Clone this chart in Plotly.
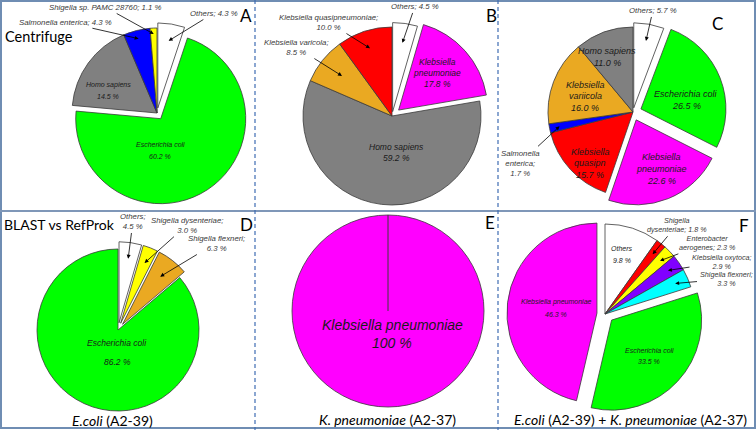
import math
import plotly.graph_objects as go

W, H = 756, 430

# ---------------- data ----------------
A_labels = ["Others", "Escherichia coli", "Homo sapiens", "Salmonella enterica", "Shigella sp. PAMC 28760"]
A_values = [4.3, 60.2, 14.5, 4.3, 1.1]

B_labels = ["Others", "Klebsiella pneumoniae", "Homo sapiens", "Klebsiella varicola", "Klebsiella quasipneumoniae"]
B_values = [4.5, 17.8, 59.2, 8.5, 10.0]

C_labels = ["Others", "Escherichia coli", "Klebsiella pneumoniae", "Klebsiella quasipn", "Salmonella enterica",
            "Klebsiella variicola", "Homo sapiens"]
C_values = [5.7, 26.5, 22.6, 15.7, 1.7, 16.0, 11.0]

D_labels = ["Others", "Shigella dysenteriae", "Shigella flexneri", "Escherichia coli"]
D_values = [4.5, 3.0, 6.3, 86.2]

E_labels = ["Klebsiella pneumoniae"]
E_values = [100]

F_labels = ["Others", "Shigella dysenteriae", "Enterobacter aerogenes", "Klebsiella oxytoca", "Shigella flexneri",
            "Escherichia coli", "Klebsiella pneumoniae"]
F_values = [9.8, 1.8, 2.3, 2.9, 3.3, 33.5, 46.3]

panel_letters = ["A", "B", "C", "D", "E", "F"]
row_titles = ["Centrifuge", "BLAST vs RefProk"]
captions = ["<i>E.coli</i> (A2-39)", "<i>K. pneumoniae</i> (A2-37)",
            "<i>E.coli</i> (A2-39) + <i>K. pneumoniae</i> (A2-37)"]

# ---------------- styles ----------------
COLORS = {
    "Others": "#FFFFFF",
    "Escherichia coli": "#00FF00",
    "Homo sapiens": "#808080",
    "Salmonella enterica": "#0000FF",
    "Shigella sp. PAMC 28760": "#FFFF00",
    "Klebsiella pneumoniae": "#FF00FF",
    "Klebsiella varicola": "#EAA922",
    "Klebsiella variicola": "#EAA922",
    "Klebsiella quasipneumoniae": "#FF0000",
    "Klebsiella quasipn": "#FF0000",
    "Shigella dysenteriae": "#FFFF00",
    "Shigella flexneri": "#EAA922",
    "Enterobacter aerogenes": "#FFFF00",
    "Klebsiella oxytoca": "#8000FF",
}
F_COLORS = {"Shigella dysenteriae": "#FF0000", "Shigella flexneri": "#00FFFF"}

LABEL_FONT = "Liberation Sans, Arial, sans-serif"
TITLE_FONT = "Lato, Open Sans, sans-serif"

# geometry per pie: centre (px), radius (px), pulls, label font size
# inside: (slice name, x, [y of each line], split name over two lines)
pies = [
    dict(labels=A_labels, values=A_values, cx=157, cy=113, r=85,
         pull={"Others": 0.06, "Escherichia coli": 0.08}, fs=7,
         inside=[("Escherichia coli", 160, [144, 156], False), ("Homo sapiens", 108, [85, 96], False)],
         callouts=[("Others", 214, 13, "{n}; {v} %", 0.8),
                   ("Salmonella enterica", 65, 22, "{n}; {v} %", 0.9),
                   ("Shigella sp. PAMC 28760", 105, 7, "{n}; {v} %", 0.93)]),
    dict(labels=B_labels, values=B_values, cx=392, cy=116, r=89,
         pull={"Others": 0.05, "Klebsiella pneumoniae": 0.1}, fs=8.5,
         inside=[("Klebsiella pneumoniae", 437, [62, 73, 84], True), ("Homo sapiens", 396, [147, 158], False)],
         callouts=[("Others", 415, 6, "{n}; {v} %", 0.78),
                   ("Klebsiella varicola", 296, 47, "{n};<br>{v} %", 0.72),
                   ("Klebsiella quasipneumoniae", 328, 22, "{n};<br>{v} %", 0.8)]),
    dict(labels=C_labels, values=C_values, cx=633, cy=112, r=85,
         pull={"Others": 0.05, "Escherichia coli": 0.1, "Klebsiella pneumoniae": 0.1}, fs=9,
         inside=[("Escherichia coli", 686, [94, 106], False),
                 ("Klebsiella pneumoniae", 661, [157, 169, 181], True),
                 ("Klebsiella quasipn", 590, [152, 163, 175], True),
                 ("Klebsiella variicola", 585, [85, 96, 108], True),
                 ("Homo sapiens", 607, [51, 63], False)],
         callouts=[("Others", 653, 10, "{n}; {v} %", 0.8),
                   ("Salmonella enterica", 520, 163, "Salmonella<br>enterica;<br>{v} %", 0.88)]),
    dict(labels=D_labels, values=D_values, cx=118, cy=330, r=81,
         pull={"Others": 0.09, "Shigella dysenteriae": 0.09, "Shigella flexneri": 0.09}, fs=8.5,
         inside=[("Escherichia coli", 117, [343, 362], False)],
         callouts=[("Others", 133, 221, "{n};<br>{v} %", 0.8),
                   ("Shigella dysenteriae", 187, 225, "{n};<br>{v} %", 0.8),
                   ("Shigella flexneri", 216, 243, "{n};<br>{v} %", 0.75)]),
    dict(labels=E_labels, values=E_values, cx=388, cy=311, r=96, pull={}, fs=14,
         inside=[("Klebsiella pneumoniae", 392, [325, 343], False)], callouts=[]),
    dict(labels=F_labels, values=F_values, cx=605, cy=314, r=90,
         pull={"Escherichia coli": 0.1, "Klebsiella pneumoniae": 0.09}, fs=7,
         inside=[("Others", 622, [248, 260], False),
                 ("Escherichia coli", 649, [350, 361], False),
                 ("Klebsiella pneumoniae", 556, [302, 314], False)],
         callouts=[("Shigella dysenteriae", 677, 225, "Shigella<br>dysenteriae; {v} %", 0.85),
                   ("Enterobacter aerogenes", 707, 243, "Enterobacter<br>aerogenes; {v} %", 0.85),
                   ("Klebsiella oxytoca", 722, 262, "{n};<br>{v} %", 0.85),
                   ("Shigella flexneri", 726, 279, "{n};<br>{v} %", 0.85)]),
]

fig = go.Figure()
annotations = []
shapes = []

for pi, p in enumerate(pies):
    labels, values = p["labels"], p["values"]
    pulls = [p["pull"].get(l, 0) for l in labels]
    maxpull = max(pulls)
    s = 2 * p["r"] * (1 + maxpull)
    dom_x = [(p["cx"] - s / 2) / W, (p["cx"] + s / 2) / W]
    dom_y = [1 - (p["cy"] + s / 2) / H, 1 - (p["cy"] - s / 2) / H]
    cmap = dict(COLORS)
    if pi == 5:
        cmap.update(F_COLORS)
    colors = [cmap[l] for l in labels]
    fig.add_trace(go.Pie(
        labels=labels, values=values, sort=False, direction="clockwise", rotation=0,
        pull=pulls, domain=dict(x=dom_x, y=dom_y),
        marker=dict(colors=colors, line=dict(color="#3a3a3a", width=0.8)),
        textinfo="none", hoverinfo="label+value", showlegend=False,
    ))
    # inside labels (one annotation per line)
    for (name, x, ys, split) in p["inside"]:
        v = values[labels.index(name)]
        lines = (name.split(" ", 1) if split else [name]) + [f"{v} %"]
        for line, y in zip(lines, ys):
            annotations.append(dict(x=x, y=y, xref="x", yref="y", text=f"<i>{line}</i>", showarrow=False,
                                    font=dict(family=LABEL_FONT, size=p["fs"], color="#1a1a1a")))
    # callouts: arrow tips computed from the slice angles
    total = sum(values)
    cum = 0
    mids = {}
    for l, v in zip(labels, values):
        mids[l] = (cum + v / 2) / total * 2 * math.pi
        cum += v
    for (name, tx, ty, tmpl, f) in p["callouts"]:
        idx = labels.index(name)
        a = mids[name]
        d = (f + pulls[idx]) * p["r"]
        x = p["cx"] + d * math.sin(a)
        y = p["cy"] - d * math.cos(a)
        annotations.append(dict(
            x=x, y=y, xref="x", yref="y", ax=tx, ay=ty, axref="x", ayref="y",
            text=f"<i>{tmpl.format(n=name, v=values[idx])}</i>",
            showarrow=True, arrowhead=2, arrowsize=1, arrowwidth=0.8, arrowcolor="#000000",
            standoff=0, startstandoff=1,
            font=dict(family=LABEL_FONT, size=7.8 if pi != 5 else 7.2, color="#3a3a3a"),
        ))
    if pi == 4:
        shapes.append(dict(type="line", xref="x", yref="y", x0=p["cx"], y0=p["cy"],
                           x1=p["cx"], y1=p["cy"] - p["r"], line=dict(color="#3a3a3a", width=1), layer="above"))

# panel letters
letter_pos = [(246, 15), (491, 15), (717, 23), (246, 224), (490, 222), (744, 225)]
for t, (x, y) in zip(panel_letters, letter_pos):
    annotations.append(dict(x=x, y=y, xref="x", yref="y", text=t, showarrow=False,
                            font=dict(family=TITLE_FONT, size=17, color="#000000")))
annotations.append(dict(x=3, y=36, xref="x", yref="y", text=row_titles[0], showarrow=False, xanchor="left",
                        font=dict(family=TITLE_FONT, size=14.5, color="#000000")))
annotations.append(dict(x=2, y=224, xref="x", yref="y", text=row_titles[1], showarrow=False, xanchor="left",
                        font=dict(family=TITLE_FONT, size=14, color="#000000")))
cap_pos = [(112, 420), (387, 419), (630, 419)]
for t, (x, y) in zip(captions, cap_pos):
    annotations.append(dict(x=x, y=y, xref="x", yref="y", text=t, showarrow=False,
                            font=dict(family=TITLE_FONT, size=14, color="#000000")))

# frame and dividers
shapes += [
    dict(type="rect", xref="x", yref="y", x0=1, y0=1, x1=W - 1, y1=H - 2,
         line=dict(color="#6F8DB3", width=2), layer="above"),
    dict(type="line", xref="x", yref="y", x0=0, y0=211, x1=W, y1=211,
         line=dict(color="#7F97B8", width=2), layer="above"),
    dict(type="line", xref="x", yref="y", x0=255, y0=0, x1=255, y1=H,
         line=dict(color="#3F6DB3", width=1.2, dash="4px,3px"), layer="above"),
    dict(type="line", xref="x", yref="y", x0=498, y0=0, x1=498, y1=H,
         line=dict(color="#3F6DB3", width=1.2, dash="4px,3px"), layer="above"),
]

fig.update_layout(
    width=W, height=H, margin=dict(l=0, r=0, t=0, b=0),
    paper_bgcolor="white", plot_bgcolor="rgba(0,0,0,0)",
    xaxis=dict(range=[0, W], visible=False, fixedrange=True),
    yaxis=dict(range=[H, 0], visible=False, fixedrange=True),
    annotations=annotations, shapes=shapes, showlegend=False,
)

fig.write_html("out.html", config={"displayModeBar": False},
               post_script="document.body.style.margin='0';document.body.style.overflow='hidden';")
